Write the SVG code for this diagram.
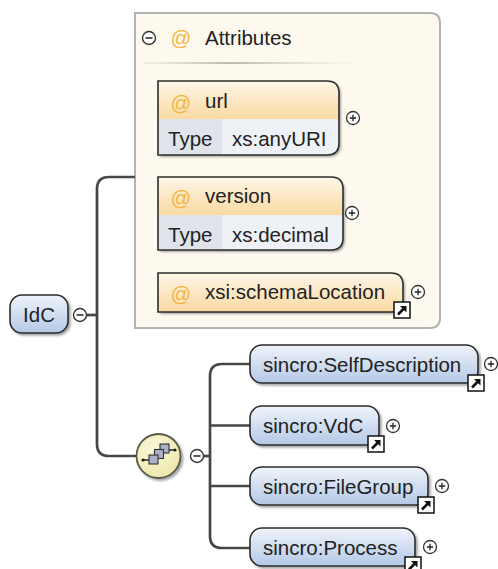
<svg xmlns="http://www.w3.org/2000/svg" width="498" height="569" viewBox="0 0 498 569">
<defs>
  <linearGradient id="elemG" x1="0" y1="0" x2="0" y2="1">
    <stop offset="0" stop-color="#f0f4fb"/>
    <stop offset="1" stop-color="#b3c8e6"/>
  </linearGradient>
  <linearGradient id="attrG" x1="0" y1="0" x2="0" y2="1">
    <stop offset="0" stop-color="#fdf6e8"/>
    <stop offset="1" stop-color="#fad9a2"/>
  </linearGradient>
  <radialGradient id="seqG" cx="0.4" cy="0.35" r="0.7">
    <stop offset="0" stop-color="#fbf8dc"/>
    <stop offset="1" stop-color="#ece6a8"/>
  </radialGradient>
  <linearGradient id="sepG" x1="0" y1="0" x2="1" y2="0">
    <stop offset="0" stop-color="#d8d4cc" stop-opacity="0.3"/>
    <stop offset="0.4" stop-color="#bdb8b0"/>
    <stop offset="1" stop-color="#d8d4cc" stop-opacity="0"/>
  </linearGradient>
  <filter id="sh" x="-10%" y="-10%" width="130%" height="140%">
    <feDropShadow dx="2" dy="2" stdDeviation="1.2" flood-color="#000" flood-opacity="0.35"/>
  </filter>
  <g id="plus">
    <circle r="6.5" fill="#fff" stroke="#333" stroke-width="1.3"/>
    <path d="M-3.2 0H3.2M0 -3.2V3.2" stroke="#222" stroke-width="1.3"/>
  </g>
  <g id="minus">
    <circle r="6.5" fill="#fff" stroke="#333" stroke-width="1.4"/>
    <path d="M-3.5 0H3.5" stroke="#222" stroke-width="1.5"/>
  </g>
  <g id="link">
    <rect x="0" y="0" width="16" height="16" fill="#fff" stroke="#111" stroke-width="1.5"/>
    <rect x="2.5" y="2.5" width="11" height="11" fill="#fff"/>
    <path d="M4 12.5L11 5.5" stroke="#111" stroke-width="2.6"/>
    <path d="M6 4H12.5V10.5Z" fill="#111"/>
  </g>
</defs>
<style>
  text { font-family: "Liberation Sans", Arial, sans-serif; font-size: 20.5px; fill: #222; }
  .at { fill: #f2b640; }
  .conn { fill: none; stroke: #474747; stroke-width: 2.7; }
  .eb { fill: url(#elemG); stroke: #2c2c2c; stroke-width: 1.6; filter: url(#sh); }
  .ab { fill: none; stroke: #2c2c2c; stroke-width: 1.6; }
  .hdr { fill: url(#attrG); }
  .tc { fill: #dfe4ea; }
  .vc { fill: #eef1f5; }
</style>

<g id="attributes-panel">
  <path d="M135 13H430Q440 13 440 23V318Q440 328 430 328H135Z" fill="#fdf9ef" stroke="#b3b3b3" stroke-width="2"/>
  <use href="#minus" x="149" y="38"/>
  <text class="at" x="181" y="45" text-anchor="middle">@</text>
  <text x="205" y="45">Attributes</text>
  <rect x="143" y="62" width="220" height="2" fill="url(#sepG)"/>
</g>

<g id="attr-url">
  <g filter="url(#sh)">
    <path class="hdr" d="M158 81H327Q339 81 339 93V119H158Z"/>
    <rect class="tc" x="158" y="119" width="64" height="36"/>
    <path class="vc" d="M222 119H339V143Q339 155 327 155H222Z"/>
  </g>
  <path class="ab" d="M158 81H327Q339 81 339 93V143Q339 155 327 155H158Z"/>
  <text class="at" x="181" y="110" text-anchor="middle">@</text>
  <text x="205" y="108">url</text>
  <text x="168" y="146">Type</text>
  <text x="232" y="146">xs:anyURI</text>
  <use href="#plus" x="353" y="118"/>
</g>

<g id="attr-version">
  <g filter="url(#sh)">
    <path class="hdr" d="M158 177H331Q343 177 343 189V215H158Z"/>
    <rect class="tc" x="158" y="215" width="64" height="35"/>
    <path class="vc" d="M222 215H343V238Q343 250 331 250H222Z"/>
  </g>
  <path class="ab" d="M158 177H331Q343 177 343 189V238Q343 250 331 250H158Z"/>
  <text class="at" x="181" y="205" text-anchor="middle">@</text>
  <text x="205" y="203">version</text>
  <text x="168" y="242">Type</text>
  <text x="232" y="242">xs:decimal</text>
  <use href="#plus" x="352" y="213"/>
</g>

<g id="attr-schemaLocation">
  <path class="hdr" filter="url(#sh)" d="M158 273H391Q403 273 403 285V300Q403 312 391 312H158Z"/>
  <path class="ab" d="M158 273H391Q403 273 403 285V300Q403 312 391 312H158Z"/>
  <text class="at" x="181" y="301" text-anchor="middle">@</text>
  <text x="205" y="299">xsi:schemaLocation</text>
  <use href="#link" x="394" y="302"/>
  <use href="#plus" x="418" y="292"/>
</g>

<g id="connectors">
  <path class="conn" d="M86 315H97"/>
  <path class="conn" d="M135 177H109Q97 177 97 189V444Q97 456 109 456H137"/>
  <path class="conn" d="M203 456H210"/>
  <path class="conn" d="M250 364H222Q210 364 210 376V536Q210 548 222 548H250"/>
  <path class="conn" d="M210 425.5H250M210 486H250"/>
</g>

<g id="IdC">
  <rect class="eb" x="10" y="295" width="58" height="38" rx="12"/>
  <text x="39" y="322" text-anchor="middle">IdC</text>
  <use href="#minus" x="80" y="315"/>
</g>

<g id="sequence">
  <circle cx="158.5" cy="456" r="22" fill="url(#seqG)" stroke="#5a5a4a" stroke-width="1.8" filter="url(#sh)"/>
  <path d="M143 460H149M168 450H175" stroke="#222" stroke-width="1.4"/>
  <circle cx="143" cy="460" r="1.6" fill="#222"/>
  <circle cx="175" cy="450" r="1.6" fill="#222"/>
  <rect x="160" y="444" width="9" height="9" fill="#a9b0c8" stroke="#333" stroke-width="1.1"/>
  <rect x="154.5" y="449.5" width="9" height="9" fill="#a9b0c8" stroke="#333" stroke-width="1.1"/>
  <rect x="149" y="455" width="9" height="9" fill="#a9b0c8" stroke="#333" stroke-width="1.1"/>
  <use href="#minus" x="197" y="456"/>
</g>

<g id="SelfDescription">
  <rect class="eb" x="250" y="345" width="228" height="38" rx="12"/>
  <text x="263" y="372">sincro:SelfDescription</text>
  <use href="#link" x="468" y="375"/>
  <use href="#plus" x="491" y="364"/>
</g>

<g id="VdC">
  <rect class="eb" x="250" y="406" width="129" height="39" rx="12"/>
  <text x="263" y="433">sincro:VdC</text>
  <use href="#link" x="368" y="436"/>
  <use href="#plus" x="393" y="426"/>
</g>

<g id="FileGroup">
  <rect class="eb" x="250" y="467" width="178" height="38" rx="12"/>
  <text x="263" y="494">sincro:FileGroup</text>
  <use href="#link" x="418" y="497"/>
  <use href="#plus" x="442" y="486"/>
</g>

<g id="Process">
  <rect class="eb" x="250" y="528" width="165" height="38" rx="12"/>
  <text x="263" y="555">sincro:Process</text>
  <use href="#link" x="405" y="557"/>
  <use href="#plus" x="430" y="547"/>
</g>
</svg>
